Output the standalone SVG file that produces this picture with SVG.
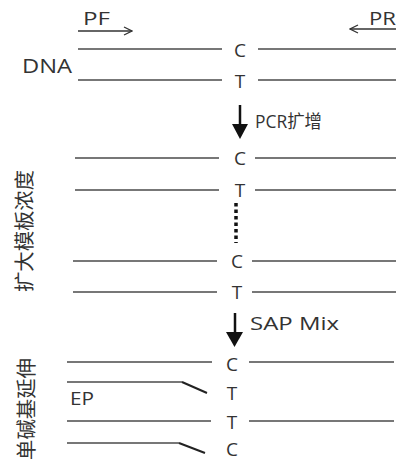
<svg xmlns="http://www.w3.org/2000/svg" width="397" height="462" viewBox="0 0 397 462">
<style>
  .t { font-family: "Open Sans", "Noto Sans", "Noto Sans CJK SC", sans-serif; fill: #333; }
  .cjk { font-family: "Noto Sans CJK SC", "Noto Sans", sans-serif; fill: #333; }
  .base { font-size: 19px; text-anchor: middle; }
  .strand { stroke: #777; stroke-width: 2; fill: none; }
  .tip { stroke: #222; stroke-width: 2; fill: none; }
  .arr { stroke: #111; stroke-width: 2.5; fill: none; }
</style>
<defs>
  <marker id="open" viewBox="0 0 10 10" refX="9" refY="5" markerWidth="10" markerHeight="10" markerUnits="userSpaceOnUse" orient="auto">
    <path d="M1,1 L9,5 L1,9" fill="none" stroke="#333" stroke-width="1.3"/>
  </marker>
</defs>
<rect width="397" height="462" fill="#fff"/>

<g id="primers">
  <text class="t" x="83" y="25" font-size="18" textLength="27" lengthAdjust="spacingAndGlyphs">PF</text>
  <text class="t" x="369" y="25" font-size="18" textLength="27" lengthAdjust="spacingAndGlyphs">PR</text>
</g>

<g id="dna">
  <text class="t" x="22" y="73" font-size="20" textLength="50" lengthAdjust="spacingAndGlyphs">DNA</text>
  <path class="strand" d="M78,49 H222 M258,49 H396 M78,80 H222 M258,80 H396"/>
  <text class="t base" x="240" y="57">C</text>
  <text class="t base" x="240" y="88">T</text>
</g>

<g id="amplified">
  <text class="cjk" transform="translate(25,231) rotate(-90)" x="0" y="7" font-size="20" text-anchor="middle" textLength="122" lengthAdjust="spacingAndGlyphs">扩大模板浓度</text>
  <path class="strand" d="M75,158 H219 M255,158 H396 M75,190 H219 M255,190 H396 M73,261 H217 M252,261 H396 M73,292 H217 M252,292 H396"/>
  <text class="t base" x="240" y="165">C</text>
  <text class="t base" x="240" y="197">T</text>
  <text class="t base" x="237" y="268">C</text>
  <text class="t base" x="237" y="299">T</text>
  <line x1="236" y1="203" x2="236" y2="243" stroke="#111" stroke-width="3.5" stroke-dasharray="3.5 3"/>
</g>

<g id="extension">
  <text class="cjk" transform="translate(27,409) rotate(-90)" x="0" y="7" font-size="20" text-anchor="middle" textLength="102" lengthAdjust="spacingAndGlyphs">单碱基延伸</text>
  <path class="strand" d="M67,362 H212 M249,362 H394 M67,382 H182 M67,421 H211 M249,421 H394 M67,443 H179"/>
  <path class="tip" d="M182,382 L207,393 M179,443 L205,453"/>
  <text class="t" x="70" y="405" font-size="18" textLength="24" lengthAdjust="spacingAndGlyphs">EP</text>
  <text class="t base" x="232" y="371">C</text>
  <text class="t base" x="232" y="400">T</text>
  <text class="t base" x="232" y="429">T</text>
  <text class="t base" x="232" y="456">C</text>
</g>

<g id="connectors">
  <line x1="78" y1="31" x2="132" y2="31" stroke="#333" stroke-width="1.5" marker-end="url(#open)"/>
  <line x1="396" y1="29" x2="350" y2="29" stroke="#333" stroke-width="1.5" marker-end="url(#open)"/>
  <line class="arr" x1="240" y1="105" x2="240" y2="126"/>
  <polygon points="232,124 248,124 240,139" fill="#111"/>
  <text class="t" x="255" y="128" font-size="18" textLength="67" lengthAdjust="spacingAndGlyphs">PCR扩增</text>
  <line class="arr" x1="235" y1="313" x2="235" y2="334"/>
  <polygon points="226,332 243,332 234.5,347" fill="#111"/>
  <text class="t" x="250" y="330" font-size="19" textLength="89" lengthAdjust="spacingAndGlyphs">SAP Mix</text>
</g>
</svg>
